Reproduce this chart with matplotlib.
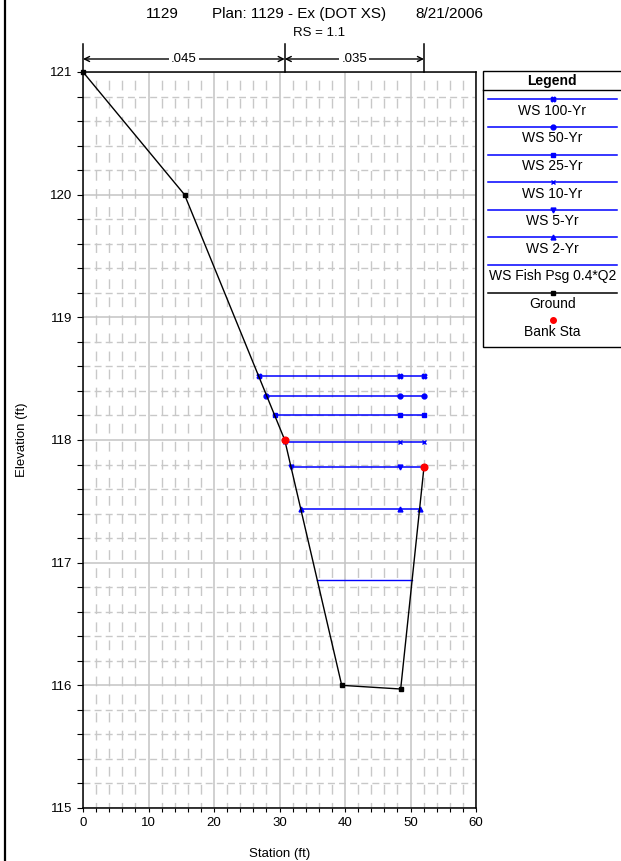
import matplotlib
matplotlib.use('Agg')
import matplotlib.pyplot as plt
import matplotlib.transforms as mtransforms
from matplotlib.patches import Rectangle
from matplotlib.ticker import MultipleLocator

plt.rcParams['font.family'] = ['Liberation Sans', 'DejaVu Sans']

# ground profile
GROUND_STA = [0, 15.5, 30.8, 39.5, 48.5, 52.06]
GROUND_ELEV = [121.0, 120.0, 118.0, 116.0, 115.97, 117.78]
BANK_STA = [30.8, 52.06]
BANK_ELEV = [118.0, 117.78]

# water surfaces
WS_NAMES = ['WS 100-Yr', 'WS 50-Yr', 'WS 25-Yr', 'WS 10-Yr', 'WS 5-Yr', 'WS 2-Yr', 'WS Fish Psg 0.4*Q2']
WS_ELEV = [118.52, 118.36, 118.20, 117.98, 117.78, 117.44, 116.86]
WS_LEFT = [26.9, 28.0, 29.3, 30.9, 31.8, 33.3, 35.7]
WS_RIGHT = [52.06, 52.06, 52.06, 52.06, 52.06, 51.45, 50.2]
WS_MID = 48.4
WS_MARKERS = ['X', 'o', 's', 'x', 'v', '^', None]

# Manning's n
N_STA = [0, 30.8, 52.06]
N_VALUES = ['.045', '.035']

BLUE = '#0000ff'
W, H = 621, 861

fig = plt.figure(figsize=(W / 100, H / 100), dpi=100)
ax = fig.add_axes([83 / W, 1 - 808 / H, (476 - 83) / W, (808 - 72) / H])

# grid
ax.set_xlim(0, 60)
ax.set_ylim(115, 121)
ax.xaxis.set_major_locator(MultipleLocator(10))
ax.xaxis.set_minor_locator(MultipleLocator(2))
ax.yaxis.set_major_locator(MultipleLocator(1))
ax.yaxis.set_minor_locator(MultipleLocator(0.2))
ax.grid(which='major', color='#c4c4c4', linewidth=1.1, zorder=0)
ax.grid(which='minor', axis='x', color='#c8c8c8', linewidth=1.0, linestyle=(3, (7, 6)), zorder=0)
ax.grid(which='minor', axis='y', color='#c8c8c8', linewidth=1.0, linestyle=(0, (5, 3)), zorder=0)
ax.set_axisbelow(True)
ax.tick_params(which='both', direction='out', length=4, width=0.8, labelsize=9.5, colors='black')
ax.tick_params(axis='x', which='both', length=3)
for s in ax.spines.values():
    s.set_linewidth(1.1)

ax.set_xlabel('Station (ft)', fontsize=9.5, labelpad=14)
fig.text(22 / W, 1 - 440 / H, 'Elevation (ft)', fontsize=9.5, rotation=90, ha='center', va='center')

# water surfaces
for i, name in enumerate(WS_NAMES):
    if WS_MARKERS[i] is None:
        ax.plot([WS_LEFT[i], WS_RIGHT[i]], [WS_ELEV[i]] * 2, color=BLUE, linewidth=1.0, zorder=3)
    else:
        xs = [WS_LEFT[i], WS_MID, WS_RIGHT[i]]
        ax.plot(xs, [WS_ELEV[i]] * 3, color=BLUE, linewidth=1.1, marker=WS_MARKERS[i],
                markersize=3.5, markeredgewidth=1.0, zorder=3)

# ground
ax.plot(GROUND_STA, GROUND_ELEV, color='black', linewidth=1.0, marker='s', markersize=3, zorder=4,
        clip_on=False)
ax.plot(BANK_STA, BANK_ELEV, linestyle='none', marker='o', color='red', markersize=4.8, zorder=5)

# Manning's n bar above the plot
trans = mtransforms.blended_transform_factory(ax.transData, fig.transFigure)
y_top = 1 - 44 / H
y_ax = 1 - 72 / H
y_arr = 1 - 59 / H
for xs in N_STA:
    ax.plot([xs, xs], [y_top, y_ax], color='black', linewidth=1.1, transform=trans, clip_on=False)
for i, label in enumerate(N_VALUES):
    ax.annotate('', xy=(N_STA[i], y_arr), xytext=(N_STA[i + 1], y_arr), xycoords=trans, textcoords=trans,
                arrowprops=dict(arrowstyle='<->', color='black', linewidth=1.0, shrinkA=0, shrinkB=0,
                                mutation_scale=9))
    ax.text((N_STA[i] + N_STA[i + 1]) / 2, y_arr, label, transform=trans, ha='center', va='center',
            fontsize=9.5, bbox=dict(facecolor='white', edgecolor='none', pad=1.5))

# titles
fig.text(146 / W, 1 - 14 / H, '1129', fontsize=11, ha='left', va='center')
fig.text(211.5 / W, 1 - 14 / H, 'Plan: 1129 - Ex (DOT XS)', fontsize=11, ha='left', va='center')
fig.text(415 / W, 1 - 14 / H, '8/21/2006', fontsize=11, ha='left', va='center')
fig.text(319 / W, 1 - 33 / H, 'RS = 1.1', fontsize=9.5, ha='center', va='center')

# overlay in pixel coordinates for the legend box and left border
lax = fig.add_axes([0, 0, 1, 1], facecolor='none')
lax.set_xlim(0, W)
lax.set_ylim(H, 0)
lax.axis('off')
lax.plot([5, 5], [0, H], color='black', linewidth=1.6)

lax.add_patch(Rectangle((483, 71), 150, 276, facecolor='white', edgecolor='black', linewidth=1.0))
lax.text(552, 80.5, 'Legend', fontsize=10, fontweight='bold', ha='center', va='center')
lax.plot([483, 633], [90, 90], color='black', linewidth=1.0)

entries = [(n, BLUE, m) for n, m in zip(WS_NAMES, WS_MARKERS)] + [('Ground', 'black', 's')]
for i, (name, col, mk) in enumerate(entries):
    yl = 99.3 + 27.6 * i
    lax.plot([488, 617], [yl, yl], color=col, linewidth=1.1)
    if mk is not None:
        lax.plot([552.5], [yl], color=col, marker=mk, markersize=3.5, markeredgewidth=1.0)
    lax.text(552.5, yl + 11.4, name, fontsize=10, ha='center', va='center')
yb = 99.3 + 27.6 * len(entries)
lax.plot([552.5], [yb], marker='o', color='red', markersize=4)
lax.text(552.5, yb + 11.4, 'Bank Sta', fontsize=10, ha='center', va='center')

fig.savefig('out.png', dpi=100)
